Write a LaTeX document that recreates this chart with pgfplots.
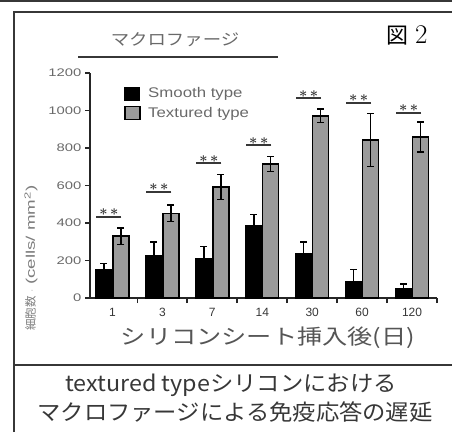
\documentclass[border=0pt]{standalone}
\usepackage{fontspec}
\setmainfont{Liberation Sans}
\newfontfamily\jp{Noto Sans CJK JP}
\newfontfamily\lm{Latin Modern Roman}
\usepackage{graphicx}
\usepackage{pgfplots}
\pgfplotsset{compat=1.18}
\definecolor{barg}{RGB}{155,155,155}
\definecolor{txt}{RGB}{55,55,55}
\newcommand\sy[1]{\scalebox{1.35}[1]{#1}}
\begin{document}
\begin{tikzpicture}[x=1pt,y=1pt]
\path[use as bounding box] (0,0) rectangle (452,432);
\draw[line width=2pt, color=txt] (0,431) -- (452,431);
\draw[line width=2pt, color=txt] (14,0) -- (14,420) -- (452,420);
\draw[line width=2pt, color=txt] (14,67) -- (452,67);
% title
\node[text=txt!75, font=\jp\fontsize{16}{16}\selectfont] at (175,392) {\scalebox{1.15}[1]{マクロファージ}};
\draw[line width=2pt, color=txt] (78,375) -- (278,375);
\node[text=black, anchor=base west, inner sep=0pt] at (386,388) {{\jp\fontsize{22}{22}\selectfont 図}\hspace{7pt}{\lm\fontsize{27}{27}\selectfont 2}};
% y label
\node[rotate=90, text=txt!65, inner sep=0pt] at (31,174) {{\jp\fontsize{11.5}{12}\selectfont 細胞数}\hspace{4pt}{\color{lightgray}\fontsize{10}{10}\selectfont ·}\hspace{4pt}\scalebox{1.5}[1]{\fontsize{12.5}{13}\selectfont (cells/ mm\textsuperscript{2})}};
% x label
\node[text=txt!85, font=\jp\fontsize{21}{21}\selectfont] at (268,94) {\scalebox{1.2}[1]{シリコンシート挿入後(日)}};
% bottom text
\node[text=txt, font=\jp\fontsize{22}{22}\selectfont] at (231,47) {\scalebox{1.06}[1]{textured typeシリコンにおける}};
\node[text=txt, font=\jp\fontsize{22}{22}\selectfont] at (235,20) {\scalebox{1.06}[1]{マクロファージによる免疫応答の遅延}};
\begin{axis}[
  at={(90pt,134pt)}, anchor=south west, scale only axis,
  width=347pt, height=225pt,
  xmin=-0.45, xmax=6.5, ymin=0, ymax=1200,
  axis x line*=bottom, axis y line*=left,
  axis line style={line width=1.8pt, color=black!85, -},
  xtick={0,...,6}, xticklabels={1,3,7,14,30,60,120},
  minor xtick={0.5,1.5,2.5,3.5,4.5,5.5,6.5},
  major x tick style={draw=none},
  minor x tick style={line width=1.8pt, black!85},
  minor tick length=5pt, major tick length=5pt,
  tick align=outside,
  ytick={0,200,...,1200},
  yticklabels={\sy{0},\sy{200},\sy{400},\sy{600},\sy{800},\sy{1000},\sy{1200}},
  y tick style={line width=1.8pt, black!85},
  y tick label style={font=\fontsize{11}{13}\selectfont, text=txt!75},
  x tick label style={font=\fontsize{12}{14}\selectfont, text=txt, yshift=-2pt},
  legend cell align=left,
  legend style={at={(0.098,0.942)}, anchor=north west, draw=none, fill=none,
    inner sep=0pt, row sep=5pt, font=\fontsize{14}{16}\selectfont, text=txt!75,
    nodes={inner sep=1.5pt},
    /tikz/every odd column/.append style={column sep=6pt}},
  clip=false,
]
\addlegendimage{legend image code/.code={\draw[fill=black,draw=black,line width=1pt] (0pt,-6.5pt) rectangle (15pt,6.5pt);}}
\addlegendentry{\scalebox{1.2}[1]{Smooth type}}
\addlegendimage{legend image code/.code={\draw[fill=barg,draw=black,line width=1.5pt] (0pt,-6.5pt) rectangle (15pt,6.5pt);}}
\addlegendentry{\scalebox{1.2}[1]{Textured type}}
\addplot[forget plot, ybar, bar width=16pt, bar shift=0pt, fill=black, draw=black, line width=1pt,
  error bars/.cd, y dir=plus, y explicit, error mark=|,
  error bar style={line width=1.5pt, black},
  error mark options={line width=1.5pt, mark size=3.5pt, black}]
coordinates {(-0.17,150) +- (0,35) (0.83,225) +- (0,75) (1.83,210) +- (0,65) (2.83,386) +- (0,60) (3.83,238) +- (0,62) (4.83,90) +- (0,62) (5.83,52) +- (0,22)};
\addplot[forget plot, ybar, bar width=16pt, bar shift=0pt, fill=barg, draw=black, line width=1.5pt,
  error bars/.cd, y dir=both, y explicit, error mark=|,
  error bar style={line width=1.5pt, black},
  error mark options={line width=1.5pt, mark size=3.5pt, black}]
coordinates {(0.17,330) +- (0,44) (1.17,452) +- (0,44) (2.17,592) +- (0,66) (3.17,715) +- (0,40) (4.17,972) +- (0,35) (5.17,843) +- (0,142) (6.17,858) +- (0,80)};
\addplot[forget plot, only marks, mark=-, mark size=12.5pt, mark options={line width=1.8pt, color=txt},
  nodes near coords={\textbf{$\ast$\,$\ast$}},
  every node near coord/.append style={anchor=south, font=\fontsize{15}{15}\selectfont\boldmath, text=txt, inner sep=0pt, yshift=0pt}]
coordinates {(-0.07,433) (0.93,567) (1.93,718) (2.93,816) (3.93,1065) (4.93,1041) (5.93,988)};
\end{axis}
\end{tikzpicture}
\end{document}
